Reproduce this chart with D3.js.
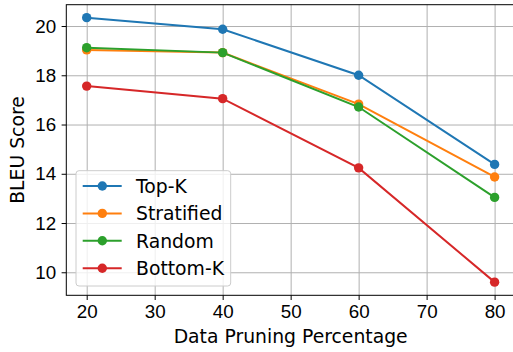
<!DOCTYPE html>
<meta charset="utf-8">
<style>
body { margin: 0; background: #fff; }
svg { display: block; font-family: "DejaVu Sans", sans-serif; }
.grid line { stroke: #b0b0b0; stroke-width: 1; }
.grid path { display: none; }
.axis text { font-size: 18.8px; fill: #000; }
.axis path, .axis line { stroke: #000; stroke-width: 1; }
.line { fill: none; stroke-width: 2; }
</style>
<svg width="513" height="352"></svg>
<script src="https://d3js.org/d3.v7.min.js"></script>
<script>

var xs = [20, 40, 60, 80];
var names = ["Top-K", "Stratified", "Random", "Bottom-K"];
var topK = [20.34, 19.87, 18.0, 14.38];
var stratified = [19.03, 18.92, 16.83, 13.87];
var random = [19.12, 18.92, 16.71, 13.04];
var bottomK = [17.56, 17.05, 14.24, 9.6];
var colors = ["#1f77b4", "#ff7f0e", "#2ca02c", "#d62728"];
var xTicks = [20, 30, 40, 50, 60, 70, 80];
var yTicks = [10, 12, 14, 16, 18, 20];

var svg = d3.select("svg"),
    margin = {top: 4.7, right: -2, bottom: 56.7, left: 66.3},
    width = +svg.attr("width") - margin.left - margin.right,
    height = +svg.attr("height") - margin.top - margin.bottom,
    g = svg.append("g").attr("transform", "translate(" + margin.left + "," + margin.top + ")");

var series = [topK, stratified, random, bottomK].map(function(vals, i) {
  return {
    id: names[i],
    color: colors[i],
    values: xs.map(function(x, j) { return {x: x, y: vals[j]}; })
  };
});

var x = d3.scaleLinear().domain([17, 83]).range([0, width]),
    y = d3.scaleLinear().domain([9.065, 20.866]).range([height, 0]);

// grid
g.append("g")
    .attr("class", "grid")
    .attr("transform", "translate(0," + height + ")")
    .call(d3.axisBottom(x).tickValues(xTicks).tickSize(-height).tickFormat(""));
g.append("g")
    .attr("class", "grid")
    .call(d3.axisLeft(y).tickValues(yTicks).tickSize(-width).tickFormat(""));

var line = d3.line()
    .x(function(d) { return x(d.x); })
    .y(function(d) { return y(d.y); });

var serie = g.selectAll(".serie")
  .data(series)
  .enter().append("g")
    .attr("class", "serie");

serie.append("path")
    .attr("class", "line")
    .attr("d", function(d) { return line(d.values); })
    .style("stroke", function(d) { return d.color; });

serie.selectAll("circle")
  .data(function(d) { return d.values.map(function(v) { return {x: v.x, y: v.y, color: d.color}; }); })
  .enter().append("circle")
    .attr("cx", function(d) { return x(d.x); })
    .attr("cy", function(d) { return y(d.y); })
    .attr("r", 4.7)
    .style("fill", function(d) { return d.color; });

// frame
g.append("rect")
    .attr("width", width)
    .attr("height", height)
    .attr("fill", "none")
    .attr("stroke", "#000")
    .attr("stroke-width", 1);

g.append("g")
    .attr("class", "axis")
    .attr("transform", "translate(0," + height + ")")
    .call(d3.axisBottom(x).tickValues(xTicks).tickSize(4.7).tickPadding(4.5).tickSizeOuter(0))
    .call(function(a) { a.select(".domain").remove(); });

g.append("g")
    .attr("class", "axis")
    .call(d3.axisLeft(y).tickValues(yTicks).tickSize(4.7).tickPadding(5.5).tickSizeOuter(0))
    .call(function(a) { a.select(".domain").remove(); });

svg.append("text")
    .attr("x", margin.left + x(50))
    .attr("y", 342.7)
    .attr("text-anchor", "middle")
    .style("font-size", "18.8px")
    .text("Data Pruning Percentage");

svg.append("text")
    .attr("transform", "translate(24.3," + (margin.top + height / 2) + ") rotate(-90)")
    .attr("text-anchor", "middle")
    .style("font-size", "18.8px")
    .text("BLEU Score");

// legend
var legend = svg.append("g").attr("transform", "translate(76,170.7)");
legend.append("rect")
    .attr("width", 154.7)
    .attr("height", 115.3)
    .attr("rx", 3)
    .attr("fill", "#fff")
    .attr("fill-opacity", 0.8)
    .attr("stroke", "#cccccc");

var item = legend.selectAll(".item")
  .data(series)
  .enter().append("g")
    .attr("transform", function(d, i) { return "translate(0," + (15.3 + i * 27.4) + ")"; });

item.append("line")
    .attr("x1", 6.7).attr("x2", 45.7)
    .attr("stroke", function(d) { return d.color; })
    .attr("stroke-width", 2);
item.append("circle")
    .attr("cx", 26.3)
    .attr("r", 4.7)
    .attr("fill", function(d) { return d.color; });
item.append("text")
    .attr("x", 60)
    .attr("dy", "0.36em")
    .style("font-size", "18.8px")
    .text(function(d) { return d.id; });

</script>
